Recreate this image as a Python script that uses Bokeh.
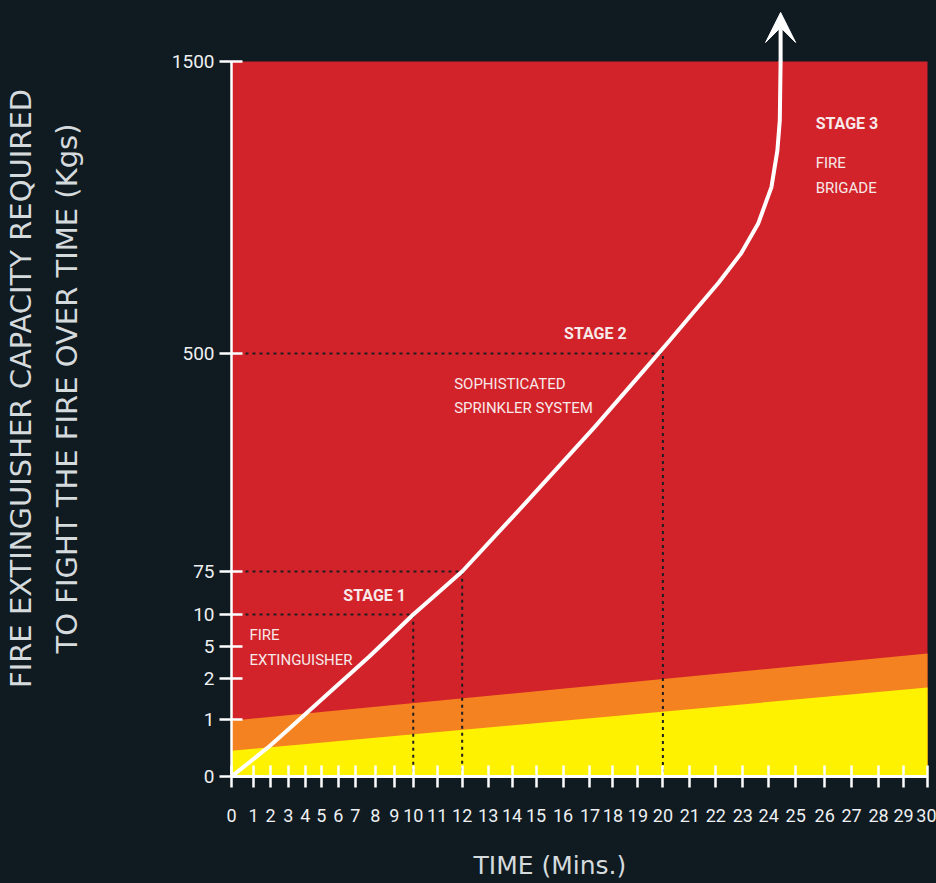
import numpy as np
from bokeh.plotting import figure
from bokeh.models import Range1d, FixedTicker, Label, Arrow, VeeHead, Title
from bokeh.embed import file_html
from bokeh.resources import INLINE

# ---------------- data ----------------
X_TICK_MIN = list(range(31))
# axis calibration of the (irregular) minute scale, as drawn
X_TICK_POS = [0, 22, 39, 57, 74, 90, 107, 124, 144, 163, 182, 206, 231, 257, 281,
              305, 332, 359, 382, 407, 432, 459, 485, 512, 538, 565, 594, 621, 648, 673, 697]
Y_TICK_KG = [0, 1, 2, 5, 10, 75, 500, 1500]
# axis calibration of the (irregular) kg scale, as drawn
Y_TICK_POS = [0, 57, 98, 130, 162, 205, 423, 715]

CURVE_MIN = [0, 0.82, 1.94, 3.06, 4.25, 5.47, 6.65, 7.7, 8.74, 10, 11, 12,
             14.65, 17.19, 19.24, 20.22, 21.1, 22.11, 22.93, 23.59, 24.1,
             24.32, 24.41, 24.44]
CURVE_KG = [0, 0.25, 0.53, 0.84, 1.22, 1.66, 2.38, 4.06, 6.41, 10, 41.7, 75,
            213, 356, 467, 541, 637, 743, 842, 944, 1070,
            1195, 1298, 1500]
ARROW_TIP_KG = 1668

BAND_MIN = [0, 30]
YELLOW_TOP_KG = [0.45, 1.78]
ORANGE_TOP_KG = [0.98, 4.34]
RED_TOP_KG = [1500, 1500]

GUIDE_MIN = [10, 12, 20]
GUIDE_KG = [10, 75, 500]

# ---------------- style ----------------
BG = "#0f1a21"
RED = "#d2232a"
ORANGE = "#f58220"
YELLOW = "#fff200"
WHITE = "#ffffff"
TXT = "#f7e9e9"
AXTXT = "#eef0f1"
TITLE_TXT = "#d5dadd"


def to_x(m):
    return np.interp(m, X_TICK_MIN, X_TICK_POS)


def to_y(kg):
    kg = np.asarray(kg, dtype=float)
    out = np.interp(kg, Y_TICK_KG, Y_TICK_POS)
    slope = (Y_TICK_POS[-1] - Y_TICK_POS[-2]) / (Y_TICK_KG[-1] - Y_TICK_KG[-2])
    over = kg > Y_TICK_KG[-1]
    return np.where(over, Y_TICK_POS[-1] + (kg - Y_TICK_KG[-1]) * slope, out)


p = figure(width=936, height=883, output_backend="svg", toolbar_location=None,
           title=None, x_range=Range1d(0, 706), y_range=Range1d(0, 776),
           min_border_left=230, min_border_right=0, min_border_top=0,
           min_border_bottom=107, background_fill_color=BG, border_fill_color=BG,
           outline_line_color=None)
p.xgrid.visible = False
p.ygrid.visible = False

bx = to_x(BAND_MIN)
p.varea(x=bx, y1=to_y([0, 0]), y2=to_y(RED_TOP_KG), fill_color=RED)
p.varea(x=bx, y1=to_y([0, 0]), y2=to_y(ORANGE_TOP_KG), fill_color=ORANGE)
p.varea(x=bx, y1=to_y([0, 0]), y2=to_y(YELLOW_TOP_KG), fill_color=YELLOW)

# dotted guides
xs, ys = [], []
for gm, gk in zip(GUIDE_MIN, GUIDE_KG):
    gx = float(to_x(gm)); gy = float(to_y(gk))
    xs.append([0, gx, gx]); ys.append([gy, gy, 0])
p.multi_line(xs=xs, ys=ys, line_color="#1e1e22", line_width=2, line_dash="3 4")

# curve
cx = to_x(CURVE_MIN); cy = to_y(CURVE_KG)
p.line(x=cx, y=cy, line_color=WHITE, line_width=4, line_join="round", line_cap="round")
p.add_layout(Arrow(x_start=float(cx[-1]), y_start=float(cy[-1]),
                   x_end=float(cx[-1]), y_end=float(to_y(ARROW_TIP_KG)),
                   line_color=WHITE, line_width=4,
                   end=VeeHead(size=30, fill_color=WHITE, line_color=WHITE)))

# axes
for ax, ticks, labels, bounds in (
        (p.xaxis[0], X_TICK_POS, X_TICK_MIN, (0, X_TICK_POS[-1])),
        (p.yaxis[0], Y_TICK_POS, Y_TICK_KG, (0, Y_TICK_POS[-1]))):
    ax.ticker = FixedTicker(ticks=ticks, minor_ticks=[])
    ax.major_label_overrides = {int(t): str(l) for t, l in zip(ticks, labels)}
    ax.bounds = bounds
    ax.axis_line_color = WHITE
    ax.major_tick_line_color = WHITE
    ax.major_tick_line_width = 2.5
    ax.minor_tick_line_color = None
    ax.major_label_text_font = "Roboto"
    ax.major_label_text_color = AXTXT
p.xaxis.major_label_text_font_size = "18px"
p.yaxis.major_label_text_font_size = "19px"
p.xaxis.axis_line_width = 3
p.yaxis.axis_line_width = 2.5
p.xaxis.major_tick_in = 11
p.xaxis.major_tick_out = 11
p.xaxis.major_label_standoff = 21
p.yaxis.major_tick_in = 11
p.yaxis.major_tick_out = 12
p.yaxis.major_label_standoff = 5

p.yaxis.axis_label = "FIRE EXTINGUISHER CAPACITY REQUIRED\nTO FIGHT THE FIRE OVER TIME (Kgs)"
p.yaxis.axis_label_text_font = "DejaVu Sans"
p.yaxis.axis_label_text_font_size = "29px"
p.yaxis.axis_label_text_font_style = "normal"
p.yaxis.axis_label_text_color = TITLE_TXT
p.yaxis.axis_label_text_line_height = 1.36
p.yaxis.axis_label_standoff = 85

# x title: the leading empty line lowers the visible line inside the panel
xt = Title(text="\nTIME (Mins.)", align="left", offset=242, vertical_align="bottom",
           standoff=0, text_line_height=0.85,
           text_font="DejaVu Sans", text_font_size="25px",
           text_font_style="normal", text_color=TITLE_TXT)
p.add_layout(xt, "below")

# annotations
def lab(x, y, text, bold=False, size="15px"):
    p.add_layout(Label(x=x, y=y, text=text, text_font="Roboto",
                       text_font_size=size, text_color=TXT,
                       text_font_style="bold" if bold else "normal",
                       text_align="left", text_baseline="alphabetic"))

lab(112, 181, "STAGE 1", True, "16px")
lab(18, 142, "FIRE")
lab(18, 117, "EXTINGUISHER")
lab(333, 443, "STAGE 2", True, "16px")
lab(223, 393, "SOPHISTICATED")
lab(223, 369, "SPRINKLER SYSTEM")
lab(585, 653, "STAGE 3", True, "16px")
lab(585, 614, "FIRE")
lab(585, 589, "BRIGADE")

html = file_html(p, INLINE, title="Fire extinguisher capacity")
html = html.replace("<head>", "<head><style>html,body{margin:0;padding:0;overflow:hidden;background:%s;}</style>" % BG, 1)
open("out.html", "w").write(html)
